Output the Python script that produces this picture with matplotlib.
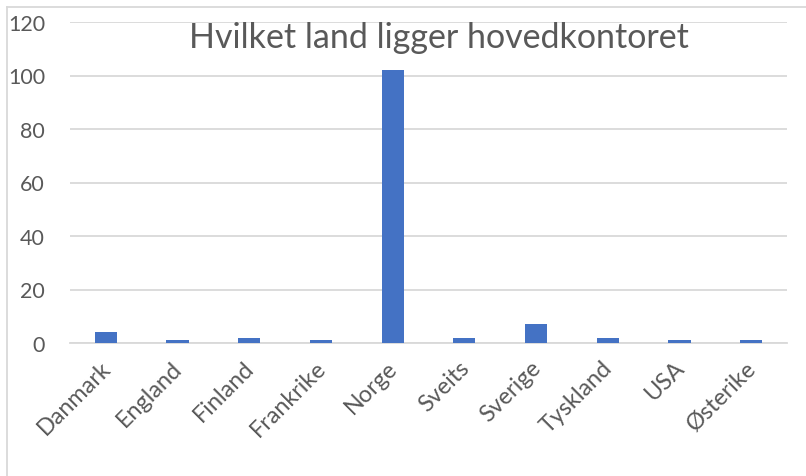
# Hvilket land ligger hovedkontoret - bar chart

import matplotlib
matplotlib.use('Agg')
import matplotlib.pyplot as plt
import matplotlib.transforms as mtransforms
from matplotlib.lines import Line2D

countries = ['Danmark', 'England', 'Finland', 'Frankrike', 'Norge',
             'Sveits', 'Sverige', 'Tyskland', 'USA', 'Østerike']
counts = [4, 1, 2, 1, 102, 2, 7, 2, 1, 1]
yticks = [0, 20, 40, 60, 80, 100, 120]
title = 'Hvilket land ligger hovedkontoret'

text_col = '#595959'
grid_col = '#D9D9D9'
bar_col = '#4472C4'

plt.rcParams['font.family'] = ['Lato', 'DejaVu Sans']

fig = plt.figure(figsize=(8.06, 4.77), dpi=100)
ax = fig.add_axes([70 / 806, 1 - 344 / 477, 717 / 806, 321 / 477])

x = range(len(countries))
ax.bar(x, counts, width=0.31, color=bar_col, zorder=3)

ax.set_xlim(-0.5, len(countries) - 0.5)
ax.set_ylim(0, 120)
ax.set_yticks(yticks)
ax.set_yticklabels([str(v) for v in yticks], fontsize=15.5, color=text_col)
ax.set_xticks(list(x))
ax.set_xticklabels(countries, rotation=45, ha='right', rotation_mode='anchor',
                   fontsize=16.8, color=text_col)
ax.tick_params(axis='both', length=0)
ax.tick_params(axis='y', pad=18)
ax.tick_params(axis='x', pad=10)

# nudge the rotated labels a little to the left, like the original
shift = mtransforms.ScaledTranslation(-6 / 100, 0, fig.dpi_scale_trans)
for lbl in ax.get_xticklabels():
    lbl.set_transform(lbl.get_transform() + shift)

ax.grid(axis='y', color=grid_col, linewidth=1.3, zorder=0)
for s in ['top', 'right', 'left']:
    ax.spines[s].set_visible(False)
ax.spines['bottom'].set_color(grid_col)
ax.spines['bottom'].set_linewidth(1.3)

fig.text(439 / 806, 1 - 38 / 477, title, ha='center', va='center',
         fontsize=24.5, color=text_col)

# chart border (top and left only visible in the crop)
fig.add_artist(Line2D([7 / 806, 7 / 806], [0, 1 - 8 / 477], transform=fig.transFigure,
                      color=grid_col, linewidth=1.3))
fig.add_artist(Line2D([7 / 806, 1], [1 - 8 / 477, 1 - 8 / 477], transform=fig.transFigure,
                      color=grid_col, linewidth=1.3))

fig.savefig('out.png', dpi=100)
